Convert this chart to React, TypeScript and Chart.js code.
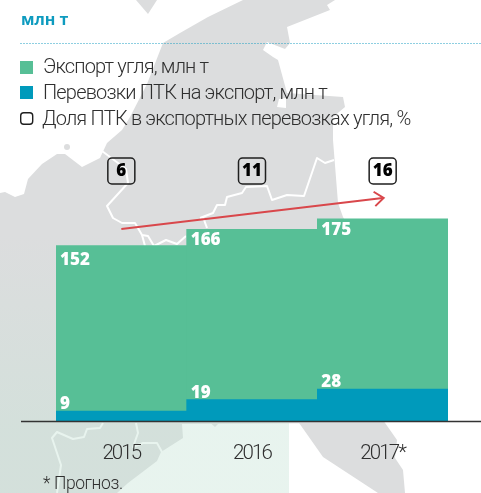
import React, { useEffect, useRef } from "react";
import { Chart, registerables } from "chart.js";

Chart.register(...registerables);

const categories = ["2015", "2016", "2017*"];
const exportCoal = [152, 166, 175];
const ptkExport = [9, 19, 28];
const ptkShare = [6, 11, 16];
const legendLabels = [
  "Экспорт угля, млн т",
  "Перевозки ПТК на экспорт, млн т",
  "Доля ПТК в экспортных перевозках угля, %",
];
const titleText = "млн т";
const noteText = "* Прогноз.";

const GREEN = "#57bf96";
const BLUE = "#009abb";
const RED = "#d9474b";
const DARK = "#1f1f1f";
const TEXT_FONT = "Roboto";
const BOLD_FONT = "'Open Sans'";

// Decorative map behind the chart (not data)
const LAND = [
  "M136 0L148 14L157 0Z",
  "M0 193L5 192L15 197L24 194L28 179L42 164L57 154L65 154L82 167L100 158L107 143L122 130L130 117L147 84L163 43L180 33L208 17L243 0L335 0L327 5L330 10L287 27L290 43L285 49L267 42L263 50L273 57L278 60L287 93L343 97L345 107L333 117L333 140L338 203L343 217L350 230L350 423L182 424L183 438L161 452L157 461L128 483L117 493L0 493Z",
  "M207 420L215 427L222 420Z",
  "M297 420L323 457L378 493L405 493L403 470L395 458L397 440L383 420Z",
  "M64 147a3 3 0 1 0 6 0a3 3 0 1 0 -6 0Z",
];
const LAND_WHITE = ["M277 107L286 108L286 98L279 99Z", "M345 120H350V420H345Z"];
const BORDERS = [
  "M102 151L126 169L128 183L107 206L113 218L122 223L135 223L142 235L148 236L154 246L166 240L177 244L186 236",
  "M142 235L145 246",
  "M200 218L213 213L217 205L225 205L227 197L242 193L246 187L267 186L272 200L287 195L304 196L317 158L325 163L334 160",
  "M203 217L207 228",
  "M103 423L100 428L87 429L84 437L73 439L57 432L52 438L61 465L57 493",
  "M136 423L138 433L133 447L143 443L157 443L162 452",
];

const tickSpacingPlugin = {
  id: "tickSpacing",
  beforeDraw(chart: any) {
    chart.ctx.letterSpacing = "-1.9px";
  },
  beforeDatasetsDraw(chart: any) {
    chart.ctx.letterSpacing = "0px";
  },
};

const barLabelPlugin = {
  id: "barLabels",
  afterDatasetsDraw(chart: any) {
    const { ctx } = chart;
    const xs = chart.scales.x;
    const ys = chart.scales.y;
    const half = xs.width / categories.length / 2;
    ctx.save();
    ctx.fillStyle = "#ffffff";
    ctx.font = `800 17px ${BOLD_FONT}`;
    ctx.textAlign = "left";
    categories.forEach((_, i) => {
      const left = xs.getPixelForValue(i) - half + 4;
      ctx.textBaseline = "middle";
      ctx.fillText(String(exportCoal[i]), left, ys.getPixelForValue(exportCoal[i]) + [14.5, 10.5, 11][i]);
      ctx.fillText(String(ptkExport[i]), left, ys.getPixelForValue(ptkExport[i]) - 6.5);
    });
    ctx.restore();
  },
};

const sharePlugin = {
  id: "shareBoxes",
  afterDraw(chart: any) {
    const { ctx, chartArea } = chart;
    const xs = chart.scales.x;
    const ys = chart.scales.y;
    ctx.save();
    // baseline that runs past the plot on both sides
    ctx.strokeStyle = "#333333";
    ctx.lineWidth = 1.5;
    ctx.beginPath();
    ctx.moveTo(21, ys.getPixelForValue(0));
    ctx.lineTo(chart.width, ys.getPixelForValue(0));
    ctx.stroke();

    // boxes with the share values
    const top = chartArea.top + 58;
    ptkShare.forEach((v, i) => {
      const cx = xs.getPixelForValue(i);
      ctx.beginPath();
      ctx.roundRect(cx - 13.5, top, 27, 26, 4);
      ctx.strokeStyle = DARK;
      ctx.lineWidth = 1.5;
      ctx.stroke();
      ctx.fillStyle = "#000000";
      ctx.font = `800 17px ${BOLD_FONT}`;
      ctx.textAlign = "center";
      ctx.textBaseline = "middle";
      ctx.fillText(String(v), cx, top + 13.5);
    });

    // arrow head on the last point of the trend line
    const pts = chart.getDatasetMeta(2).data;
    const a = pts[pts.length - 2];
    const b = pts[pts.length - 1];
    const ang = Math.atan2(b.y - a.y, b.x - a.x);
    ctx.strokeStyle = RED;
    ctx.lineWidth = 2;
    ctx.beginPath();
    const L = 11;
    ctx.moveTo(b.x - L * Math.cos(ang - 0.72) , b.y - L * Math.sin(ang - 0.72));
    ctx.lineTo(b.x + 1, b.y);
    ctx.lineTo(b.x - L * Math.cos(ang + 0.72), b.y - L * Math.sin(ang + 0.72));
    ctx.stroke();
    ctx.restore();
  },
};

export default function App() {
  const ref = useRef<HTMLCanvasElement | null>(null);

  useEffect(() => {
    if (!ref.current) return;
    const chart = new Chart(ref.current, {
      type: "bar",
      data: {
        labels: categories,
        datasets: [
          {
            label: legendLabels[0],
            data: exportCoal,
            backgroundColor: GREEN,
            order: 3,
            barPercentage: 1,
            categoryPercentage: 1,
            grouped: false,
          } as any,
          {
            label: legendLabels[1],
            data: ptkExport,
            backgroundColor: BLUE,
            order: 2,
            barPercentage: 1,
            categoryPercentage: 1,
            grouped: false,
          } as any,
          {
            type: "line",
            label: legendLabels[2],
            data: ptkShare,
            yAxisID: "y1",
            borderColor: RED,
            borderWidth: 2,
            pointRadius: 0,
            tension: 0,
            order: 1,
          } as any,
        ],
      },
      options: {
        responsive: false,
        animation: false,
        layout: { padding: { left: 56, right: 33, top: 100, bottom: 0 } },
        plugins: { legend: { display: false }, tooltip: { enabled: false } },
        scales: {
          x: {
            grid: { display: false },
            border: { display: false },
            ticks: {
              color: "#2f2f2f",
              padding: 12,
              font: { family: TEXT_FONT, size: 20.5, weight: "300" },
              maxRotation: 0,
            },
            afterFit(s: any) {
              s.height = 71.5;
            },
          },
          y: { display: false, min: 0, max: 277.6 },
          y1: { display: false, min: -56.1, max: 47.6 },
        },
      },
      plugins: [tickSpacingPlugin, barLabelPlugin, sharePlugin],
    } as any);
    return () => chart.destroy();
  }, []);

  const textBase: React.CSSProperties = {
    position: "absolute",
    fontFamily: TEXT_FONT,
    fontWeight: 300,
    color: "#2f2f2f",
    whiteSpace: "nowrap",
  };

  return (
    <div style={{ position: "absolute", left: 0, top: 0, width: 481, height: 493, overflow: "hidden", background: "#fff" }}>
      <svg width={481} height={493} style={{ position: "absolute", left: 0, top: 0 }}>
        <defs>
          <linearGradient id="fade" x1="0" y1="235" x2="0" y2="430" gradientUnits="userSpaceOnUse">
            <stop offset="0" stopColor="#c8e4d7" stopOpacity={0} />
            <stop offset="1" stopColor="#c8e4d7" stopOpacity={0.42} />
          </linearGradient>
        </defs>
        {LAND.map((d, i) => (
          <path key={i} d={d} fill="#dcddde" />
        ))}
        {LAND_WHITE.map((d, i) => (
          <path key={i} d={d} fill="#ffffff" />
        ))}
        {BORDERS.map((d, i) => (
          <path key={i} d={d} fill="none" stroke="#ffffff" strokeWidth={2} strokeLinejoin="round" />
        ))}
        <rect x={0} y={235} width={289} height={258} fill="url(#fade)" />
        <line x1={20.5} x2={481} y1={43.5} y2={43.5} stroke="#1c9fc2" strokeWidth={1} strokeDasharray="1 2" />
        <rect x={20} y={61} width={13} height={13} fill={GREEN} />
        <rect x={20} y={86} width={13} height={13} fill={BLUE} />
        <rect x={20.7} y={112.7} width={12} height={11.6} rx={3} fill="#ffffff" fillOpacity={0.6} stroke={DARK} strokeWidth={1.4} />
      </svg>
      <canvas ref={ref} width={481} height={493} style={{ position: "absolute", left: 0, top: 0 }} />
      <div style={{ ...textBase, left: 21, top: 9, fontFamily: BOLD_FONT, fontWeight: 700, fontSize: 16, lineHeight: "20px", color: "#0e9bbf" }}>
        {titleText}
      </div>
      <div style={{ ...textBase, left: 43, top: 53, fontSize: 20, lineHeight: "26px", letterSpacing: -0.82 }}>{legendLabels[0]}</div>
      <div style={{ ...textBase, left: 43, top: 79, fontSize: 20, lineHeight: "26px", letterSpacing: -0.82 }}>{legendLabels[1]}</div>
      <div style={{ ...textBase, left: 42, top: 105, fontSize: 20, lineHeight: "26px", letterSpacing: -0.82 }}>{legendLabels[2]}</div>
      <div style={{ ...textBase, left: 43, top: 472, fontSize: 17.5, lineHeight: "22px", letterSpacing: -0.4 }}>{noteText}</div>
    </div>
  );
}
